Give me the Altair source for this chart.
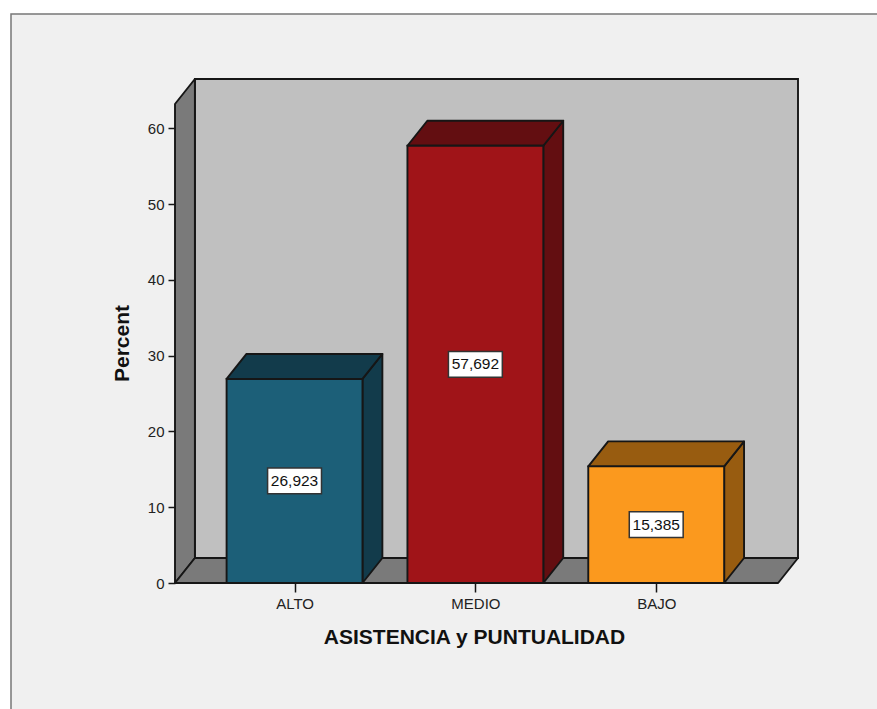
import altair as alt
import pandas as pd

categories = ["ALTO", "MEDIO", "BAJO"]
percents = [26.923, 57.692, 15.385]
value_labels = ["26,923", "57,692", "15,385"]
front_colors = ["#1c5f78", "#a01418", "#fb991e"]
shade_colors = ["#123b4b", "#630e11", "#985c10"]
y_ticks = [0, 10, 20, 30, 40, 50, 60]

# Box geometry in axis units: bar half width, extrusion depth, floor and wall extent
HALF = 0.3757
DX = 0.11
DY = 3.3
X_LEFT = -0.661
X_RIGHT = 2.674
WALL_TOP = 63.2

INK = "#161616"
EDGE = 1.9
FONT = "Liberation Sans"

positions = list(range(len(categories)))


def parallelogram_top(name, x0, x1, y, color):
    return [
        dict(face=name, x=x0, lo=y, hi=y, color=color),
        dict(face=name, x=x0 + DX, lo=y, hi=y + DY, color=color),
        dict(face=name, x=x1, lo=y, hi=y + DY, color=color),
        dict(face=name, x=x1 + DX, lo=y + DY, hi=y + DY, color=color),
    ]


def parallelogram_side(name, x, y0, y1, color):
    return [
        dict(face=name, x=x, lo=y0, hi=y1, color=color),
        dict(face=name, x=x + DX, lo=y0 + DY, hi=y1 + DY, color=color),
    ]


shell_rows = parallelogram_side("left wall", X_LEFT, 0, WALL_TOP, "#7a7a7a")
shell_rows += parallelogram_top("floor", X_LEFT, X_RIGHT, 0, "#7a7a7a")

shade_rows = []
for pos, val, shade in zip(positions, percents, shade_colors):
    shade_rows += parallelogram_side(f"side {pos}", pos + HALF, 0, val, shade)
    shade_rows += parallelogram_top(f"top {pos}", pos - HALF, pos + HALF, val, shade)

bars = pd.DataFrame({
    "pos": positions,
    "x0": [p - HALF for p in positions],
    "x1": [p + HALF for p in positions],
    "base": [0] * len(positions),
    "value": percents,
    "mid": [v / 2 for v in percents],
    "box_x0": [p - 0.149 for p in positions],
    "box_x1": [p + 0.149 for p in positions],
    "box_y0": [v / 2 - 1.7 for v in percents],
    "box_y1": [v / 2 + 1.7 for v in percents],
    "text": value_labels,
    "color": front_colors,
})

x_scale = alt.Scale(domain=[X_LEFT, X_RIGHT + DX], nice=False, zero=False)
y_scale = alt.Scale(domain=[0, WALL_TOP + DY], nice=False, zero=False)

label_expr = "[" + ",".join(f"'{c}'" for c in categories) + "][datum.value]"

x_axis = alt.Axis(
    values=positions, labelExpr=label_expr, domain=False, grid=False, zindex=1,
    tickSize=9, tickColor=INK, tickWidth=1.5, labelFont=FONT, labelFontSize=15,
    labelColor="#222222", labelPadding=4,
    title="ASISTENCIA y PUNTUALIDAD", titleFont=FONT, titleFontSize=21,
    titleFontWeight="bold", titleColor="#111111", titleX=299, titleY=43,
)
y_axis = alt.Axis(
    values=y_ticks, domain=False, grid=False, zindex=1, tickSize=7, tickColor=INK,
    tickWidth=1.5, labelFont=FONT, labelFontSize=15, labelColor="#222222", labelPadding=4,
    title="Percent", titleFont=FONT, titleFontSize=21, titleFontWeight="bold",
    titleColor="#111111", titleX=-43, titleY=264,
)

# Light grey panel with a thin dark edge along the top and left
panel = alt.Chart(pd.DataFrame({"k": [0]})).mark_rect(
    fill="#f0f0f0", stroke="#777777", strokeWidth=1.5
).encode(
    x=alt.value(-164), x2=alt.value(720), y=alt.value(-65), y2=alt.value(660)
)

back_wall = alt.Chart(pd.DataFrame({
    "x0": [X_LEFT + DX], "x1": [X_RIGHT + DX], "y0": [DY], "y1": [WALL_TOP + DY]
})).mark_rect(fill="#c0c0c0", stroke=INK, strokeWidth=EDGE).encode(
    x=alt.X("x0:Q", scale=x_scale, axis=x_axis), x2="x1:Q",
    y=alt.Y("y0:Q", scale=y_scale, axis=y_axis), y2="y1:Q",
)


def faces(rows):
    return alt.Chart(pd.DataFrame(rows)).mark_area(
        stroke=INK, strokeWidth=EDGE, opacity=1, strokeJoin="round", orient="vertical"
    ).encode(
        x=alt.X("x:Q", scale=x_scale),
        y=alt.Y("lo:Q", scale=y_scale),
        y2="hi:Q",
        fill=alt.Fill("color:N", scale=None),
        detail="face:N",
    )


fronts = alt.Chart(bars).mark_rect(stroke=INK, strokeWidth=EDGE).encode(
    x=alt.X("x0:Q", scale=x_scale), x2="x1:Q",
    y=alt.Y("base:Q", scale=y_scale), y2="value:Q",
    fill=alt.Fill("color:N", scale=None),
)

boxes = alt.Chart(bars).mark_rect(fill="white", stroke="#333333", strokeWidth=1.5).encode(
    x=alt.X("box_x0:Q", scale=x_scale), x2="box_x1:Q",
    y=alt.Y("box_y0:Q", scale=y_scale), y2="box_y1:Q",
)

texts = alt.Chart(bars).mark_text(
    font=FONT, fontSize=15.5, color="#111111", align="center", baseline="middle"
).encode(
    x=alt.X("pos:Q", scale=x_scale),
    y=alt.Y("mid:Q", scale=y_scale),
    text="text:N",
)

chart = alt.layer(
    panel, back_wall, faces(shell_rows), faces(shade_rows), fronts, boxes, texts
).properties(
    width=623, height=504, background="white",
    padding={"left": 175, "top": 79, "right": 79, "bottom": 126},
    autosize=alt.AutoSizeParams(type="none"),
).configure_view(stroke=None)

chart.save("out.html", embed_options={"renderer": "svg", "actions": False})
